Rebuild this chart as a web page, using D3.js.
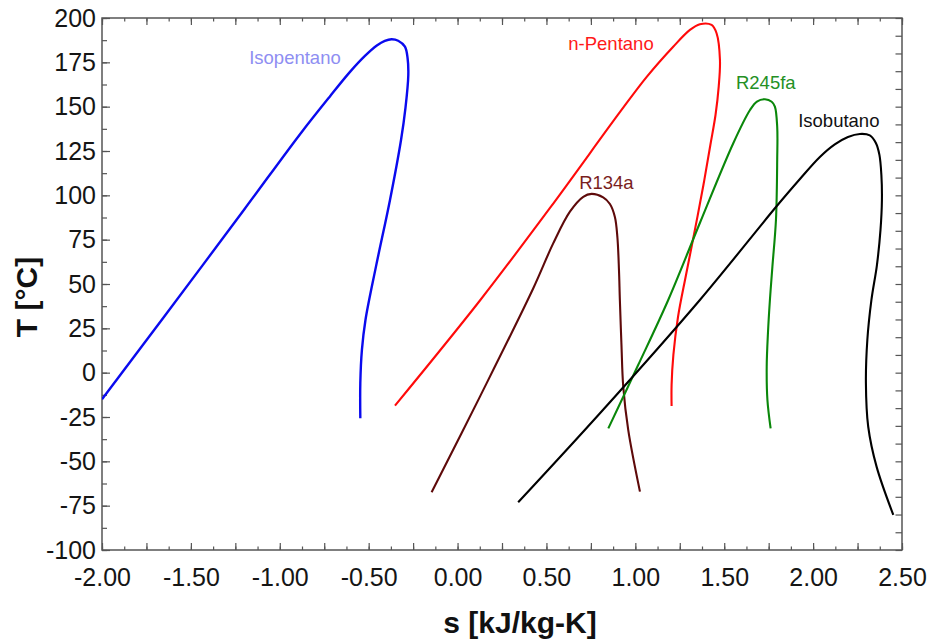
<!DOCTYPE html>
<html>
<head>
<meta charset="utf-8">
<script src="https://cdn.jsdelivr.net/npm/d3@7"></script>
<style>
  html, body { margin: 0; padding: 0; background: #fff; }
  svg { display: block; }
  text { font-family: "Liberation Sans", Arial, sans-serif; }
</style>
</head>
<body>
<svg id="chart" width="930" height="643"></svg>
<script>
// ---------- data ----------
const seriesNames = ["Isopentano", "n-Pentano", "R134a", "R245fa", "Isobutano"];

const isopentanoS = [-2.000, -1.657, -1.200, -0.886, -0.718, -0.605, -0.521, -0.454, -0.409, -0.371, -0.334, -0.296, -0.281, -0.277, -0.293, -0.318, -0.380, -0.459, -0.518, -0.538, -0.547, -0.547];
const isopentanoT = [-15.0, 30.7, 92.0, 134.5, 155.8, 169.6, 178.6, 184.5, 187.1, 188.0, 187.2, 183.8, 177.3, 167.9, 149.3, 131.2, 97.4, 59.8, 29.7, 12.8, -5.8, -25.7];

const nPentanoS = [-0.352, 0.126, 0.520, 0.914, 1.064, 1.213, 1.307, 1.363, 1.429, 1.457, 1.476, 1.469, 1.451, 1.422, 1.383, 1.335, 1.285, 1.240, 1.214, 1.204, 1.204];
const nPentanoT = [-18.6, 40.7, 92.9, 147.0, 166.8, 183.8, 193.3, 196.5, 196.1, 191.4, 176.3, 161.3, 145.3, 128.4, 105.8, 80.5, 55.1, 31.4, 10.0, -6.9, -18.8];

const r134aS = [-0.146, 0.126, 0.426, 0.538, 0.632, 0.707, 0.754, 0.819, 0.857, 0.885, 0.899, 0.908, 0.913, 0.922, 0.932, 0.960, 1.026];
const r134aT = [-67.4, -13.5, 47.6, 72.9, 90.8, 99.2, 100.8, 98.8, 95.1, 87.8, 76.5, 57.9, 41.0, 15.6, -7.9, -32.3, -67.1];

const r245faS = [0.848, 1.016, 1.185, 1.363, 1.551, 1.645, 1.684, 1.729, 1.767, 1.785, 1.798, 1.798, 1.791, 1.771, 1.757, 1.746, 1.739, 1.743, 1.761];
const r245faT = [-31.4, 4.3, 41.0, 84.4, 129.4, 148.1, 152.9, 154.2, 152.8, 150.0, 138.7, 120.0, 86.1, 59.8, 41.0, 22.4, 3.4, -15.4, -31.4];

const isobutanoS = [0.341, 0.801, 1.363, 1.791, 1.926, 2.038, 2.122, 2.196, 2.263, 2.319, 2.353, 2.373, 2.384, 2.387, 2.379, 2.359, 2.328, 2.305, 2.297, 2.310, 2.357, 2.451];
const isobutanoT = [-73.1, -22.9, 41.0, 93.4, 109.2, 121.6, 128.7, 132.9, 134.6, 133.8, 129.5, 122.8, 111.5, 97.4, 80.5, 60.7, 41.0, 18.4, -5.8, -30.5, -53.0, -80.2];

const xTickLabels = ["-2.00", "-1.50", "-1.00", "-0.50", "0.00", "0.50", "1.00", "1.50", "2.00", "2.50"];
const yTickLabels = ["-100", "-75", "-50", "-25", "0", "25", "50", "75", "100", "125", "150", "175", "200"];

// ---------- styling / layout ----------
const lineColors  = { "Isopentano": "#0a0aee", "n-Pentano": "#ff0a0a", "R134a": "#5e0a0a", "R245fa": "#0a870a", "Isobutano": "#000000" };
const labelColors = { "Isopentano": "#8e8ef2", "n-Pentano": "#ff1a1a", "R134a": "#7a1e1e", "R245fa": "#249024", "Isobutano": "#111111" };
const labelAt     = { "Isopentano": [-1.172, 174.1], "n-Pentano": [0.623, 182.0], "R134a": [0.684, 103.4], "R245fa": [1.566, 159.8], "Isobutano": [1.916, 138.7] };

const plot = { left: 102, right: 902, top: 18, bottom: 550 };
const svg = d3.select("#chart");

const x = d3.scaleLinear().domain([-2, 2.5]).range([plot.left, plot.right]);
const y = d3.scaleLinear().domain([-100, 200]).range([plot.bottom, plot.top]);

const axisColor = "#555";

const xMinor = d3.range(-2, 2.5001, 0.125).map(v => +v.toFixed(3));
const xMajor = d3.range(-2, 2.5001, 0.25).map(v => +v.toFixed(3));
const xLabelVals = xTickLabels.map(Number);
const yMinor = d3.range(-100, 200.001, 12.5);
const yLabelVals = yTickLabels.map(Number);
const yRight = d3.range(-100, 200.001, 10);

function styleAxis(g) {
  g.select(".domain").remove();
  g.selectAll(".tick line").attr("stroke", axisColor).attr("stroke-width", 1.2);
}

// bottom ticks (inward)
svg.append("g").attr("transform", `translate(0,${plot.bottom})`)
  .call(d3.axisBottom(x).tickValues(xMinor).tickSize(-3.5).tickFormat("")).call(styleAxis);
svg.append("g").attr("transform", `translate(0,${plot.bottom})`)
  .call(d3.axisBottom(x).tickValues(xMajor).tickSize(-7).tickFormat("")).call(styleAxis);
// top ticks (inward)
svg.append("g").attr("transform", `translate(0,${plot.top})`)
  .call(d3.axisTop(x).tickValues(xMinor).tickSize(-3.5).tickFormat("")).call(styleAxis);
svg.append("g").attr("transform", `translate(0,${plot.top})`)
  .call(d3.axisTop(x).tickValues(xMajor).tickSize(-7).tickFormat("")).call(styleAxis);
// left ticks (inward)
svg.append("g").attr("transform", `translate(${plot.left},0)`)
  .call(d3.axisLeft(y).tickValues(yMinor).tickSize(-5).tickFormat("")).call(styleAxis);
svg.append("g").attr("transform", `translate(${plot.left},0)`)
  .call(d3.axisLeft(y).tickValues(yLabelVals).tickSize(-8).tickFormat("")).call(styleAxis);
// right ticks (inward)
svg.append("g").attr("transform", `translate(${plot.right},0)`)
  .call(d3.axisRight(y).tickValues(yRight).tickSize(-6.5).tickFormat("")).call(styleAxis);

// tick labels
const xLab = svg.append("g").attr("transform", `translate(0,${plot.bottom})`)
  .call(d3.axisBottom(x).tickValues(xLabelVals).tickSize(0).tickPadding(18)
    .tickFormat((d, i) => xTickLabels[i]));
xLab.select(".domain").remove();
xLab.selectAll("text").attr("font-size", 25).attr("fill", "#151515")
  .attr("font-family", "'Liberation Sans', Arial, sans-serif");

const yLab = svg.append("g").attr("transform", `translate(${plot.left},0)`)
  .call(d3.axisLeft(y).tickValues(yLabelVals).tickSize(0).tickPadding(6)
    .tickFormat((d, i) => yTickLabels[i]));
yLab.select(".domain").remove();
yLab.selectAll("text").attr("font-size", 25).attr("fill", "#151515")
  .attr("font-family", "'Liberation Sans', Arial, sans-serif");

// frame
svg.append("rect")
  .attr("x", plot.left).attr("y", plot.top)
  .attr("width", plot.right - plot.left).attr("height", plot.bottom - plot.top)
  .attr("fill", "none").attr("stroke", axisColor).attr("stroke-width", 1.5);

// curves
const seriesData = {
  "Isopentano": isopentanoS.map((s, i) => [s, isopentanoT[i]]),
  "n-Pentano": nPentanoS.map((s, i) => [s, nPentanoT[i]]),
  "R134a": r134aS.map((s, i) => [s, r134aT[i]]),
  "R245fa": r245faS.map((s, i) => [s, r245faT[i]]),
  "Isobutano": isobutanoS.map((s, i) => [s, isobutanoT[i]])
};

const line = d3.line().x(d => x(d[0])).y(d => y(d[1])).curve(d3.curveCatmullRom.alpha(0.5));

svg.append("clipPath").attr("id", "plotclip").append("rect")
  .attr("x", plot.left).attr("y", plot.top)
  .attr("width", plot.right - plot.left).attr("height", plot.bottom - plot.top);

svg.append("g").attr("clip-path", "url(#plotclip)")
  .selectAll("path").data(seriesNames).join("path")
  .attr("d", n => line(seriesData[n]))
  .attr("fill", "none")
  .attr("stroke", n => lineColors[n])
  .attr("stroke-width", n => n === "Isopentano" ? 2.4 : 2.1)
  .attr("stroke-linejoin", "round");

// series labels
svg.append("g").selectAll("text").data(seriesNames).join("text")
  .attr("x", n => x(labelAt[n][0]))
  .attr("y", n => y(labelAt[n][1]))
  .attr("font-size", 18.5)
  .attr("fill", n => labelColors[n])
  .text(n => n);

// axis titles
svg.append("text")
  .attr("x", 520).attr("y", 633)
  .attr("text-anchor", "middle")
  .attr("font-size", 30).attr("font-weight", "bold").attr("fill", "#111")
  .text("s [kJ/kg-K]");

svg.append("text")
  .attr("transform", "translate(37,297) rotate(-90)")
  .attr("text-anchor", "middle")
  .attr("font-size", 30).attr("font-weight", "bold").attr("fill", "#111")
  .text("T [°C]");
</script>
</body>
</html>
